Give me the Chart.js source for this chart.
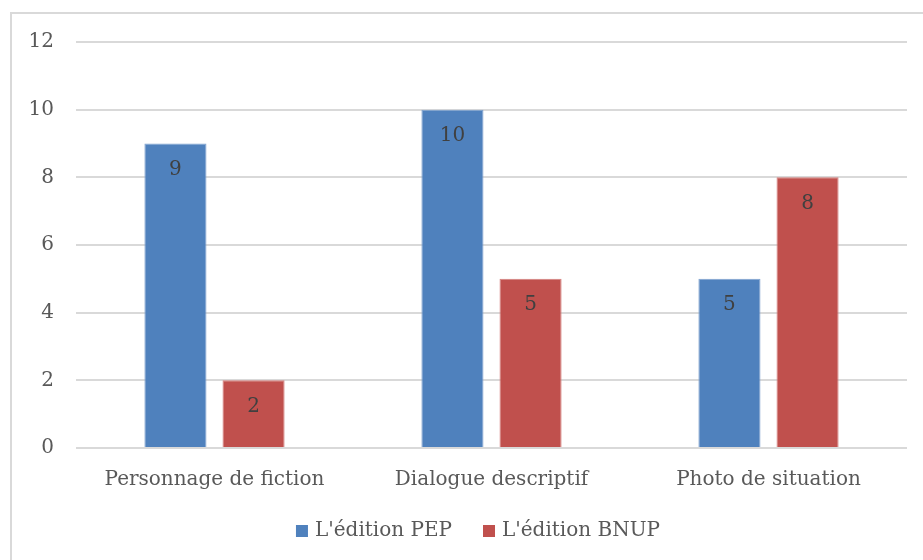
<!DOCTYPE html>
<html lang="fr">
<head>
<meta charset="UTF-8" />
<title>Éditions</title>
<script src="https://cdn.jsdelivr.net/npm/chart.js"></script>
<style>
  html, body { margin: 0; padding: 0; background: #fff; overflow: hidden; }
  #wrap { position: relative; width: 923px; height: 560px; }
  #frame { position: absolute; left: 10px; top: 12px; width: 940px; height: 600px;
           border: 2px solid #d9d9d9; box-sizing: border-box; }
  canvas { position: absolute; left: 0; top: 0; }
</style>
</head>
<body>
<div id="wrap">
  <div id="frame"></div>
  <canvas id="chart" width="923" height="560"></canvas>
</div>
<script>
const categories = ['Personnage de fiction', 'Dialogue descriptif', 'Photo de situation'];
const pepValues = [9, 10, 5];
const bnupValues = [2, 5, 8];
const yTicks = [0, 2, 4, 6, 8, 10, 12];

const FONT = "'DejaVu Serif', serif";

// draw the values inside the top of each bar
const barValues = {
  id: 'barValues',
  afterDatasetsDraw(chart) {
    const ctx = chart.ctx;
    ctx.save();
    ctx.font = '20px ' + FONT;
    ctx.fillStyle = '#404040';
    ctx.textAlign = 'center';
    ctx.textBaseline = 'middle';
    chart.data.datasets.forEach((ds, i) => {
      chart.getDatasetMeta(i).data.forEach((bar, j) => {
        ctx.fillText(ds.data[j], bar.x, bar.y + 26);
      });
    });
    ctx.restore();
  }
};

// legend drawn by hand so the spacing matches the office-style legend
const bottomLegend = {
  id: 'bottomLegend',
  afterDraw(chart) {
    const ctx = chart.ctx;
    const box = 12, gapText = 7, gapItem = 31, cy = 531;
    ctx.save();
    ctx.font = '20px ' + FONT;
    ctx.textBaseline = 'middle';
    const items = chart.data.datasets.map(ds => ({
      text: ds.label, color: ds.backgroundColor, w: ctx.measureText(ds.label).width
    }));
    const total = items.reduce((s, it) => s + box + gapText + it.w, 0) + gapItem * (items.length - 1);
    let x = 478 - total / 2;
    items.forEach(it => {
      ctx.fillStyle = it.color;
      ctx.fillRect(x, cy - box / 2, box, box);
      x += box + gapText;
      ctx.fillStyle = '#595959';
      ctx.fillText(it.text, x, cy);
      x += it.w + gapItem;
    });
    ctx.restore();
  }
};

new Chart(document.getElementById('chart'), {
  type: 'bar',
  data: {
    labels: categories,
    datasets: [
      { label: "L'édition PEP", data: pepValues, backgroundColor: '#4f81bd',
        borderColor: '#7fa2cf', borderWidth: 1 },
      { label: "L'édition BNUP", data: bnupValues, backgroundColor: '#c0504d',
        borderColor: '#d47f7d', borderWidth: 1 }
    ]
  },
  options: {
    responsive: false,
    animation: false,
    categoryPercentage: 0.564,
    barPercentage: 0.795,
    layout: { padding: { top: 42, right: 16, bottom: 48, left: 0 } },
    plugins: {
      legend: { display: false },
      tooltip: { enabled: false }
    },
    scales: {
      x: {
        grid: { display: false, drawTicks: false },
        border: { display: false },
        ticks: { color: '#595959', padding: 20, font: { family: FONT, size: 20 } }
      },
      y: {
        min: 0, max: 12,
        afterBuildTicks(scale) { scale.ticks = yTicks.map(v => ({ value: v })); },
        afterFit(scale) { scale.width = 76; },
        grid: { color: '#d9d9d9', lineWidth: 2, drawTicks: false },
        border: { display: false },
        ticks: { color: '#595959', padding: 22, font: { family: FONT, size: 20 } }
      }
    }
  },
  plugins: [barValues, bottomLegend]
});
</script>
</body>
</html>
